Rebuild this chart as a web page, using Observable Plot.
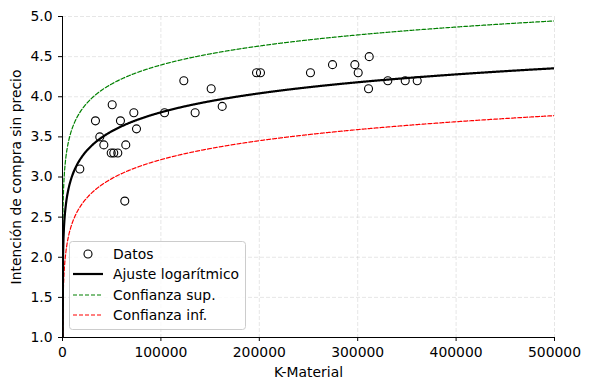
<!DOCTYPE html>
<html>
<head>
<meta charset="utf-8">
<script src="https://cdn.jsdelivr.net/npm/d3@7"></script>
<script src="https://cdn.jsdelivr.net/npm/@observablehq/plot@0.6"></script>
<style>
  html, body { margin: 0; padding: 0; background: white; }
  #chart { width: 590px; height: 390px; }
</style>
</head>
<body>
<div id="chart"></div>
<script>
// Observed data (K-Material vs. purchase intention)
const kMaterial = [17600, 33500, 37900, 42000, 50500, 49500, 52100, 56200, 58900, 64300,
  63300, 72500, 75200, 103700, 123300, 134800, 151100, 162300, 197200, 201200,
  252000, 274400, 297100, 300500, 311700, 311000, 330600, 348300, 360500];
const intencion = [3.1, 3.7, 3.5, 3.4, 3.9, 3.3, 3.3, 3.3, 3.7, 3.4,
  2.7, 3.8, 3.6, 3.8, 4.2, 3.8, 4.1, 3.88, 4.3, 4.3,
  4.3, 4.4, 4.4, 4.3, 4.5, 4.1, 4.2, 4.2, 4.2];

// Logarithmic fit y = a + b*ln(x), band = fit ± delta
const fitA = -0.12;
const fitB = 0.341;
const confDelta = 0.59;

const xTicks = [0, 100000, 200000, 300000, 400000, 500000];
const yTicks = [1.0, 1.5, 2.0, 2.5, 3.0, 3.5, 4.0, 4.5, 5.0];
const xLabel = "K-Material";
const yLabel = "Intención de compra sin precio";
const legendLabels = ["Datos", "Ajuste logarítmico", "Confianza sup.", "Confianza inf."];

const points = kMaterial.map((x, i) => ({x, y: intencion[i]}));
const xs = [1, ...d3.range(1, 1001).map(i => i * 500)];
const curves = [];
for (const x of xs) {
  const f = fitA + fitB * Math.log(x);
  curves.push({x, y: f, s: "fit"});
  curves.push({x, y: f + confDelta, s: "sup"});
  curves.push({x, y: f - confDelta, s: "inf"});
}

const FS = 13.9;
const gridStyle = {stroke: "#b0b0b0", strokeOpacity: 0.4, strokeDasharray: "4,2", strokeWidth: 0.8};
const dash = "4,2";

const chart = Plot.plot({
  width: 590, height: 390,
  marginLeft: 62, marginRight: 36, marginTop: 16, marginBottom: 53,
  style: {fontFamily: "DejaVu Sans", fontSize: FS + "px", background: "white", color: "black"},
  x: {domain: [0, 500000]},
  y: {domain: [1, 5]},
  marks: [
    Plot.gridX(xTicks, gridStyle),
    Plot.gridY(yTicks, gridStyle),
    Plot.line(curves.filter(d => d.s === "sup"), {x: "x", y: "y", stroke: "#008000", strokeWidth: 1.2, strokeDasharray: dash, clip: true}),
    Plot.line(curves.filter(d => d.s === "inf"), {x: "x", y: "y", stroke: "#ff0000", strokeWidth: 1.2, strokeDasharray: dash, clip: true}),
    Plot.line(curves.filter(d => d.s === "fit"), {x: "x", y: "y", stroke: "black", strokeWidth: 2.2, clip: true}),
    Plot.dot(points, {x: "x", y: "y", r: 4, stroke: "black", fill: "none", strokeWidth: 1.1}),
    Plot.ruleX([0], {stroke: "black", strokeWidth: 1}),
    Plot.ruleY([1], {stroke: "black", strokeWidth: 1}),
    Plot.axisX({ticks: xTicks, tickSize: 4, tickPadding: 6, tickFormat: d => String(d), label: null, fontSize: FS}),
    Plot.axisY({ticks: yTicks, tickSize: 4, tickPadding: 6, tickFormat: d3.format(".1f"), label: null, fontSize: FS}),
    Plot.text([xLabel], {frameAnchor: "bottom", dy: 35, text: d => d, lineAnchor: "middle", textAnchor: "middle", fontSize: FS}),
    Plot.text([yLabel], {frameAnchor: "left", dx: -46, rotate: -90, text: d => d, lineAnchor: "middle", textAnchor: "middle", fontSize: FS})
  ]
});
document.getElementById("chart").appendChild(chart);

// Legend (inside the plot area, lower left)
const svg = d3.select(chart);
const lg = svg.append("g").attr("transform", "translate(69,241)")
  .attr("font-family", "DejaVu Sans").attr("font-size", FS + "px").attr("text-anchor", "start");
lg.append("rect").attr("x", 0.5).attr("y", 0.5).attr("width", 176).attr("height", 88)
  .attr("rx", 3).attr("fill", "white").attr("fill-opacity", 0.8).attr("stroke", "#cccccc");
const rowY = [13, 33, 54, 74];
legendLabels.forEach((lab, i) => {
  const y = rowY[i];
  if (i === 0) {
    lg.append("circle").attr("cx", 19).attr("cy", y).attr("r", 4).attr("fill", "none").attr("stroke", "black").attr("stroke-width", 1.1);
  } else {
    const col = i === 1 ? "black" : i === 2 ? "#008000" : "#ff0000";
    lg.append("line").attr("x1", 4).attr("x2", 34).attr("y1", y).attr("y2", y)
      .attr("stroke", col).attr("stroke-width", i === 1 ? 2.2 : 1.2)
      .attr("stroke-dasharray", i === 1 ? null : dash);
  }
  lg.append("text").attr("x", 44).attr("y", y).attr("dy", "0.35em")
    .attr("text-anchor", "start").attr("fill", "black").text(lab);
});
</script>
</body>
</html>
